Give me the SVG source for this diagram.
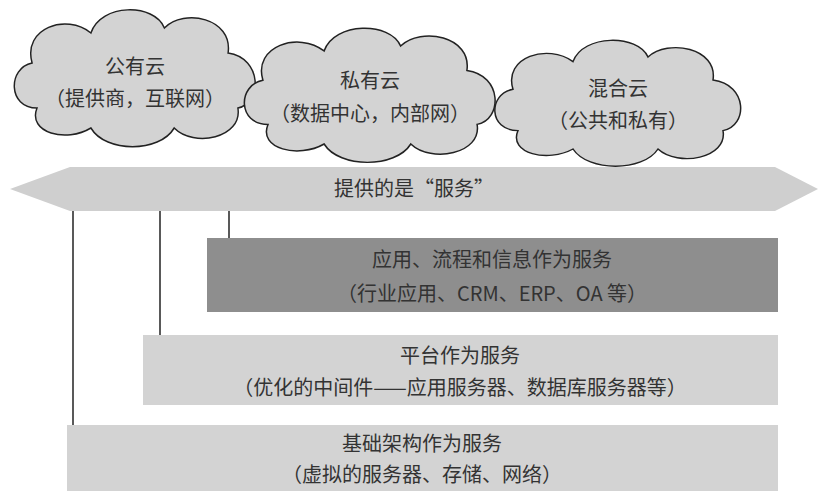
<svg xmlns="http://www.w3.org/2000/svg" width="828" height="500" viewBox="0 0 828 500">
<defs>
<style>
text{font-family:"Noto Sans CJK SC","Liberation Serif",sans-serif;font-size:20px;fill:#333;text-anchor:middle}
.cloud{fill:#d3d3d3;stroke:#222;stroke-width:1.5}
.ln{stroke:#222;stroke-width:1.5;fill:none}
</style>
<path id="cl" d="M -100,30 C -130,30 -130,-10 -105,-15 C -115,-50 -70,-65 -45,-45 C -35,-75 20,-75 30,-50 C 50,-70 100,-60 95,-25 C 130,-20 130,25 105,30 C 110,60 60,70 40,50 C 25,75 -30,75 -45,50 C -70,65 -110,55 -100,30 Z"/>
</defs>
<rect width="828" height="500" fill="#fff"/>
<g id="connectors">
<line class="ln" x1="73" y1="210" x2="73" y2="425"/>
<line class="ln" x1="160" y1="210" x2="160" y2="335"/>
<line class="ln" x1="229" y1="210" x2="229" y2="238"/>
</g>
<g id="public">
<use href="#cl" class="cloud" transform="translate(135,78) scale(0.98,1)"/>
<text x="135" y="74">公有云</text>
<text x="135" y="106">（提供商，互联网）</text>
</g>
<g id="hybrid">
<use href="#cl" class="cloud" transform="translate(618,103) scale(1,0.92)"/>
<text x="618" y="96">混合云</text>
<text x="618" y="128">（公共和私有）</text>
</g>
<g id="private">
<use href="#cl" class="cloud" transform="translate(370,95) scale(1.02,0.98)"/>
<text x="370" y="88">私有云</text>
<text x="370" y="121">（数据中心，内部网）</text>
</g>
<g id="banner">
<polygon points="10,189 70,167 775,167 818,189 775,211 70,211" fill="#cfcfcf"/>
<text x="414" y="196">提供的是“服务”</text>
</g>
<g id="saas">
<rect x="207" y="238" width="571" height="74" fill="#8e8e8e"/>
<text x="492" y="267">应用、流程和信息作为服务</text>
<text x="492" y="301">（行业应用、CRM、ERP、OA 等）</text>
</g>
<g id="paas">
<rect x="143" y="335" width="635" height="70" fill="#d3d3d3"/>
<text x="460" y="363">平台作为服务</text>
<text x="460" y="395">（优化的中间件——应用服务器、数据库服务器等）</text>
</g>
<g id="iaas">
<rect x="67" y="425" width="711" height="66" fill="#d3d3d3"/>
<text x="422" y="451">基础架构作为服务</text>
<text x="422" y="482">（虚拟的服务器、存储、网络）</text>
</g>
</svg>
